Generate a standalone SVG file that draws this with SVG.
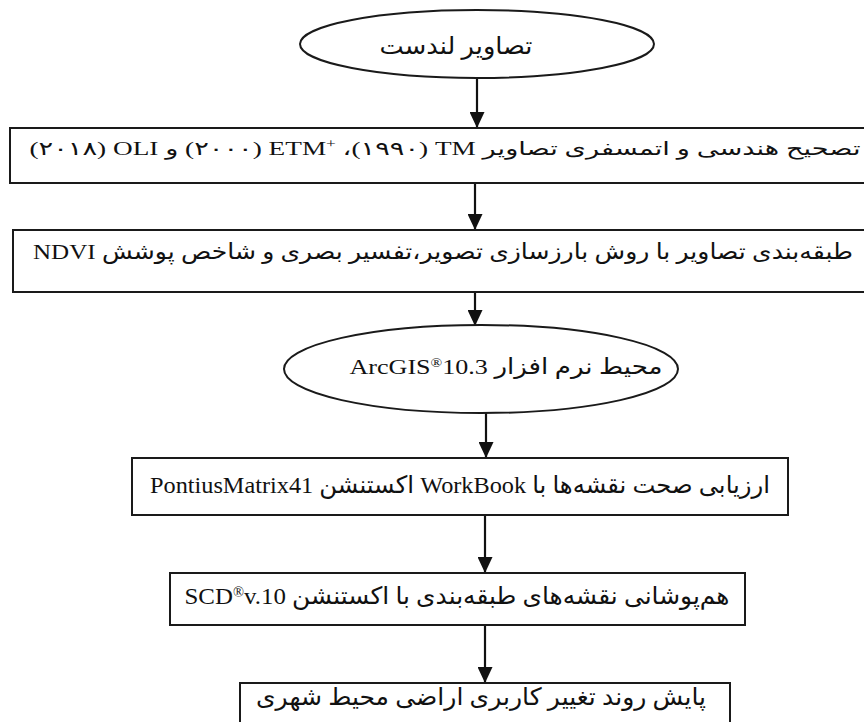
<svg xmlns="http://www.w3.org/2000/svg" width="864" height="722" viewBox="0 0 864 722">
<defs>
<style>
.shape{fill:#fff;stroke:#1a1a1a;stroke-width:2}
.t{font-family:'Liberation Serif','DejaVu Sans',serif;fill:#111}
.conn line{stroke:#111;stroke-width:2.2}
</style>
<marker id="ah" viewBox="0 0 16 15" refX="16" refY="7.5" markerWidth="16" markerHeight="15" orient="auto" markerUnits="userSpaceOnUse">
<path d="M0,0 L16,7.5 L0,15 z" fill="#111"/>
</marker>
</defs>
<rect width="864" height="722" fill="#fff"/>
<g id="connectors" class="conn">
<line x1="477" y1="78" x2="477" y2="128" marker-end="url(#ah)"/>
<line x1="475" y1="183" x2="475" y2="230" marker-end="url(#ah)"/>
<line x1="475" y1="292" x2="475" y2="326" marker-end="url(#ah)"/>
<line x1="486" y1="413" x2="486" y2="458" marker-end="url(#ah)"/>
<line x1="485" y1="515" x2="485" y2="573" marker-end="url(#ah)"/>
<line x1="485" y1="625" x2="485" y2="683" marker-end="url(#ah)"/>
</g>
<g id="n1">
<ellipse class="shape" cx="477" cy="44" rx="177" ry="34"/>
<text class="t" x="456" y="54" font-size="24" direction="rtl" text-anchor="middle" textLength="153" lengthAdjust="spacingAndGlyphs">تصاویر لندست</text>
</g>
<g id="n2">
<rect class="shape" x="10" y="128" width="870" height="55"/>
<text class="t" x="445" y="155" font-size="19" direction="rtl" text-anchor="middle" textLength="831" lengthAdjust="spacingAndGlyphs">تصحیح هندسی و اتمسفری تصاویر TM&#x200F; (۱۹۹۰)، ETM<tspan baseline-shift="super" font-size="12">+</tspan>&#x200E;&#x200F; (۲۰۰۰) و OLI&#x200F; (۲۰۱۸)</text>
</g>
<g id="n3">
<rect class="shape" x="13" y="230" width="870" height="62"/>
<text class="t" x="443" y="259" font-size="22" direction="rtl" text-anchor="middle" textLength="820" lengthAdjust="spacingAndGlyphs">طبقه‌بندی تصاویر با روش بارزسازی تصویر،تفسیر بصری و شاخص پوشش NDVI</text>
</g>
<g id="n4">
<ellipse class="shape" cx="481" cy="369" rx="197" ry="44"/>
<text class="t" x="506" y="374" font-size="22" direction="rtl" text-anchor="middle" textLength="313" lengthAdjust="spacingAndGlyphs">محیط نرم افزار ArcGIS<tspan baseline-shift="super" font-size="13">®</tspan>10.3</text>
</g>
<g id="n5">
<rect class="shape" x="132" y="458" width="656" height="57"/>
<text class="t" x="460" y="493" font-size="24" direction="rtl" text-anchor="middle" textLength="620" lengthAdjust="spacingAndGlyphs">ارزیابی صحت نقشه‌ها با WorkBook اکستنشن PontiusMatrix41</text>
</g>
<g id="n6">
<rect class="shape" x="170" y="573" width="575" height="52"/>
<text class="t" x="457" y="604" font-size="24" direction="rtl" text-anchor="middle" textLength="545" lengthAdjust="spacingAndGlyphs">هم‌پوشانی نقشه‌های طبقه‌بندی با اکستنشن SCD<tspan baseline-shift="super" font-size="14">®</tspan>v.10</text>
</g>
<g id="n7">
<rect class="shape" x="240" y="683" width="490" height="60"/>
<text class="t" x="481" y="705" font-size="24" direction="rtl" text-anchor="middle" textLength="450" lengthAdjust="spacingAndGlyphs">پایش روند تغییر کاربری اراضی محیط شهری</text>
</g>
</svg>
